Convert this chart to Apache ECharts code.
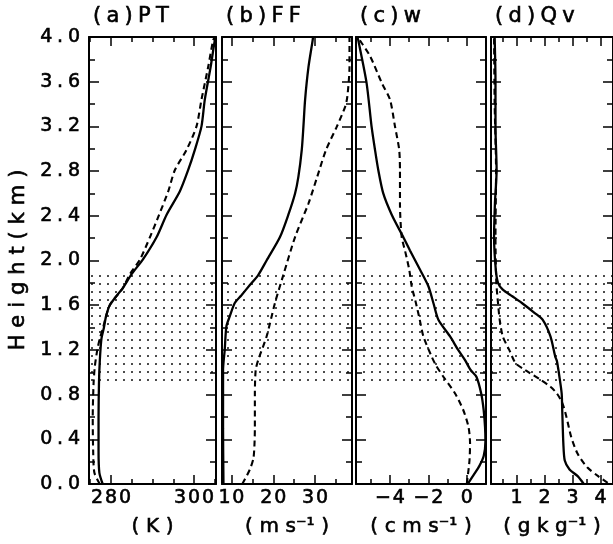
<!DOCTYPE html>
<html>
<head>
<meta charset="utf-8">
<script src="https://cdn.jsdelivr.net/npm/echarts@6/dist/echarts.min.js"></script>
<style>
html,body{margin:0;padding:0;background:#fff;}
#chart{width:613px;height:544px;}
</style>
</head>
<body>
<div id="chart"></div>
<script>
// ---------------- data ----------------
const panelTitles = ['(a)PT', '(b)FF', '(c)w', '(d)Qv'];
const unitNames = ['(K', '(ms', '(cms', '(gkg'];
const unitHasInv = [false, true, true, true];
const heightTicksInterval = 0.4;
const heightMin = 0, heightMax = 4;
const xMin = [274.7, 7.75, -5.77, 0.09];
const xMax = [305.3, 38.8, 1.0, 4.44];
const xMajorTicks = [[280, 300], [10, 20, 30], [-4, -2, 0], [1, 2, 3, 4]];
const xMinorTicks = [[275, 285, 290, 295, 305], [15, 25, 35], [-5, -3, -1], [0.5, 1.5, 2.5, 3.5]];
const shadedLayer = [0.9, 1.88];

// [value, height(km)]
const ptSolid = [[278.0,0],[277.2,0.1],[277.0,0.3],[277.0,0.6],[277.1,0.9],[277.3,1.1],[277.7,1.3],[278.3,1.4],[278.8,1.5],[279.7,1.6],[281.7,1.7],[282.8,1.75],[285.0,1.88],[287.7,2.01],[291.0,2.21],[293.4,2.41],[296.6,2.62],[298.6,2.81],[300.2,2.99],[301.8,3.2],[302.6,3.44],[304.0,3.73],[305.0,3.97],[305.2,4.0]];
const ptDashed = [[277.3,0],[276.0,0.1],[275.7,0.3],[275.6,0.6],[275.8,0.9],[276.1,1.05],[276.7,1.2],[277.3,1.3],[278.1,1.4],[278.8,1.5],[279.7,1.6],[281.7,1.7],[282.8,1.75],[284.6,1.88],[287.0,2.01],[289.4,2.21],[291.6,2.41],[293.8,2.62],[295.4,2.81],[298.2,2.99],[300.6,3.2],[301.8,3.44],[303.4,3.73],[304.6,3.97],[305.0,4.0]];
const ffSolid = [[8.1,0],[8.0,0.5],[8.0,1.02],[8.4,1.2],[8.8,1.41],[9.6,1.5],[10.8,1.62],[12.4,1.69],[14.4,1.78],[16.4,1.87],[18.4,2.0],[21.6,2.21],[23.6,2.41],[25.2,2.6],[26.0,2.75],[26.8,2.99],[27.2,3.2],[27.6,3.44],[28.4,3.73],[29.4,3.97],[29.5,4.0]];
const ffDashed = [[12.6,0],[14.4,0.13],[15.3,0.24],[15.6,0.51],[15.6,0.81],[15.8,1.02],[16.4,1.11],[18.4,1.32],[20.4,1.62],[22.4,1.87],[25.2,2.21],[28.4,2.51],[30.5,2.75],[32.6,2.99],[35.2,3.2],[37.2,3.38],[37.7,3.47],[38.2,3.73],[38.2,4.0]];
const wSolid = [[0.05,0],[0.35,0.08],[0.65,0.16],[0.88,0.25],[0.97,0.38],[0.95,0.51],[0.88,0.66],[0.75,0.81],[0.5,0.96],[0.2,1.02],[-0.1,1.11],[-0.45,1.2],[-0.87,1.32],[-1.48,1.47],[-1.74,1.62],[-2.0,1.77],[-2.44,1.92],[-2.96,2.09],[-3.31,2.21],[-3.91,2.41],[-4.35,2.6],[-4.61,2.81],[-4.78,2.99],[-4.96,3.2],[-5.22,3.59],[-5.65,3.97],[-5.7,4.0]];
const wDashed = [[0.0,0],[0.05,0.07],[0.14,0.21],[0.17,0.36],[0.09,0.51],[-0.18,0.66],[-0.61,0.81],[-1.22,0.96],[-1.6,1.06],[-1.83,1.14],[-2.26,1.32],[-2.45,1.47],[-2.65,1.62],[-2.87,1.77],[-3.0,1.92],[-3.22,2.09],[-3.39,2.21],[-3.48,2.5],[-3.48,2.8],[-3.52,2.99],[-3.74,3.2],[-4.0,3.44],[-4.43,3.59],[-5.04,3.83],[-5.57,3.97],[-5.7,4.0]];
const qvSolid = [[3.4,0],[3.18,0.07],[2.89,0.13],[2.72,0.21],[2.67,0.36],[2.63,0.66],[2.61,0.81],[2.53,0.96],[2.44,1.1],[2.38,1.14],[2.21,1.32],[1.93,1.47],[1.65,1.53],[1.19,1.62],[0.85,1.68],[0.51,1.74],[0.34,1.8],[0.26,1.92],[0.2,2.21],[0.23,2.51],[0.29,2.81],[0.25,3.2],[0.25,3.6],[0.22,4.0]];
const qvDashed = [[4.25,0.01],[3.91,0.07],[3.52,0.15],[3.18,0.27],[2.95,0.42],[2.78,0.6],[2.64,0.72],[2.44,0.81],[2.21,0.87],[1.87,0.93],[1.31,1.02],[0.97,1.08],[0.74,1.2],[0.51,1.32],[0.4,1.47],[0.34,1.62],[0.28,1.8],[0.25,2.2],[0.27,2.8],[0.22,3.4],[0.2,4.0]];

const curves = [[ptSolid, ptDashed], [ffSolid, ffDashed], [wSolid, wDashed], [qvSolid, qvDashed]];

// ---------------- layout / style ----------------
const FONT = 'DejaVu Sans';
const gridLeft = [89, 222, 356, 491];
const gridWidth = [127, 130, 130, 128];
const gridTop = 37, gridHeight = 447;
const MED = { textBorderColor: '#000', textBorderWidth: 0.6 };

function spaced(s, sep) { return s.split('').join(sep); }

const pc = document.createElement('canvas');
pc.width = 8; pc.height = 8;
const pctx = pc.getContext('2d');
pctx.fillStyle = '#000';
pctx.beginPath(); pctx.arc(4, 4, 0.95, 0, Math.PI * 2); pctx.fill();

const grid = [], xAxis = [], yAxis = [], series = [], title = [];
for (let i = 0; i < 4; i++) {
  grid.push({ left: gridLeft[i], width: gridWidth[i], top: gridTop, height: gridHeight, containLabel: false });
  const unit = unitHasInv[i]
    ? spaced(unitNames[i], '\u2004') + '\u207B\u00B9\u2004)'
    : spaced(unitNames[i] + ')', '\u2004');
  const fmt = (v) => spaced(v < 0 ? '\u2212' + Math.abs(v) : String(v), '\u200A');
  const base = { type: 'value', gridIndex: i, min: xMin[i], max: xMax[i], splitLine: { show: false } };
  const xb = xAxis.length;
  xAxis.push(Object.assign({}, base, {
    position: 'bottom',
    axisLine: { show: true, onZero: false, lineStyle: { color: '#000', width: 2 } },
    axisTick: { show: true, inside: true, length: 9, customValues: xMajorTicks[i], lineStyle: { color: '#000', width: 1.5 } },
    axisLabel: Object.assign({ show: true, customValues: xMajorTicks[i], margin: 5, formatter: fmt, color: '#000', fontFamily: FONT, fontSize: 19 }, MED),
    name: unit, nameLocation: 'middle', nameGap: 33,
    nameTextStyle: Object.assign({ color: '#000', fontFamily: FONT, fontSize: 20 }, MED)
  }));
  xAxis.push(Object.assign({}, base, {
    position: 'bottom',
    axisLine: { show: false, onZero: false },
    axisTick: { show: true, inside: true, length: 5, customValues: xMinorTicks[i], lineStyle: { color: '#000', width: 1.5 } },
    axisLabel: { show: false }
  }));
  xAxis.push(Object.assign({}, base, {
    position: 'top',
    axisLine: { show: true, onZero: false, lineStyle: { color: '#000', width: 2 } },
    axisTick: { show: true, inside: true, length: 9, customValues: xMajorTicks[i], lineStyle: { color: '#000', width: 1.5 } },
    axisLabel: { show: false }
  }));
  xAxis.push(Object.assign({}, base, {
    position: 'top',
    axisLine: { show: false, onZero: false },
    axisTick: { show: true, inside: true, length: 5, customValues: xMinorTicks[i], lineStyle: { color: '#000', width: 1.5 } },
    axisLabel: { show: false }
  }));
  const ybase = {
    type: 'value', gridIndex: i, min: heightMin, max: heightMax, interval: heightTicksInterval,
    splitLine: { show: false },
    axisLine: { show: true, onZero: false, lineStyle: { color: '#000', width: 2 } },
    axisTick: { show: true, inside: true, length: 10, lineStyle: { color: '#000', width: 1.5 } },
    minorTick: { show: true, splitNumber: 2, length: 6, lineStyle: { color: '#000', width: 1.5 } },
    minorSplitLine: { show: false }
  };
  const yl = yAxis.length;
  yAxis.push(Object.assign({}, ybase, {
    position: 'left',
    axisLabel: i === 0 ? Object.assign({
      show: true, margin: 9, color: '#000', fontFamily: FONT, fontSize: 19,
      formatter: (v) => spaced(v.toFixed(1), '\u2005')
    }, MED) : { show: false }
  }));
  yAxis.push(Object.assign({}, ybase, { position: 'right', axisLabel: { show: false } }));

  curves[i].forEach((d, k) => {
    const s = {
      type: 'line', xAxisIndex: xb, yAxisIndex: yl, data: d,
      showSymbol: false, symbol: 'none', smooth: 0.25, clip: true, silent: true,
      lineStyle: k === 0
        ? { color: '#000', width: 2.3, type: 'solid' }
        : { color: '#000', width: 2.1, type: [6, 4] }
    };
    if (k === 0) {
      s.markArea = {
        silent: true,
        itemStyle: { color: { image: pc, repeat: 'repeat' }, opacity: 1, borderWidth: 0 },
        data: [[{ yAxis: shadedLayer[0] }, { yAxis: shadedLayer[1] }]]
      };
    }
    series.push(s);
  });

  title.push({
    text: spaced(panelTitles[i], '\u2005'),
    left: gridLeft[i] + 4, top: 6, padding: 0,
    textStyle: Object.assign({ color: '#000', fontFamily: FONT, fontSize: 21, fontWeight: 'normal' }, MED)
  });
}

const chart = echarts.init(document.getElementById('chart'), null, { renderer: 'canvas' });
chart.setOption({
  backgroundColor: '#fff',
  animation: false,
  title: title,
  grid: grid,
  xAxis: xAxis,
  yAxis: yAxis,
  series: series,
  graphic: [{
    type: 'text', x: 19, y: 260, rotation: Math.PI / 2,
    style: {
      text: spaced('Height(km)', '\u2004'),
      fill: '#000', font: '21px "DejaVu Sans"',
      stroke: '#000', lineWidth: 0.6,
      textAlign: 'center', textVerticalAlign: 'middle'
    }
  }]
});
</script>
</body>
</html>
